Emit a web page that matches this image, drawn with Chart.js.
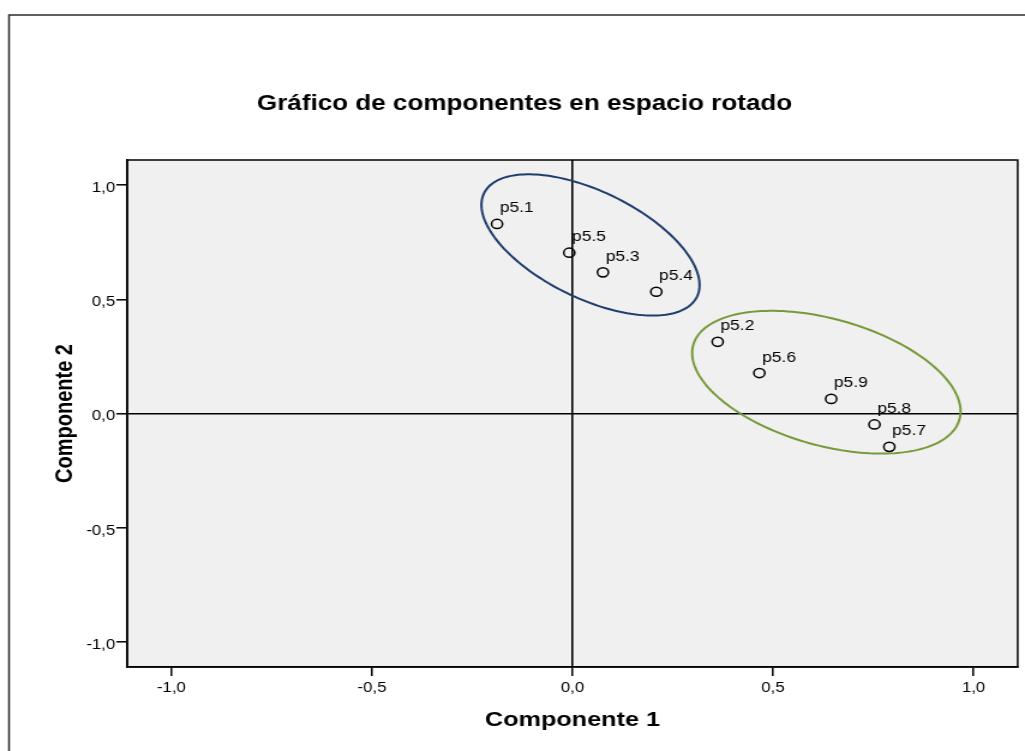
<!DOCTYPE html>
<html lang="es">
<head>
<meta charset="utf-8">
<title>Gráfico de componentes en espacio rotado</title>
<script src="https://cdn.jsdelivr.net/npm/chart.js@4.4.1/dist/chart.umd.min.js"></script>
<style>
  html, body { margin: 0; padding: 0; background: #ffffff; }
</style>
</head>
<body>
<!-- the drawing surface is rendered narrower and widened on screen -->
<canvas id="chart" width="854" height="751" style="display:block;width:1025px;height:751px;"></canvas>
<script>
// Variable loadings on the two rotated components
const pointLabels = ['p5.1', 'p5.5', 'p5.3', 'p5.4', 'p5.2', 'p5.6', 'p5.9', 'p5.8', 'p5.7'];
const componente1 = [-0.188, -0.008, 0.076, 0.209, 0.362, 0.466, 0.645, 0.753, 0.790];
const componente2 = [0.830, 0.704, 0.618, 0.533, 0.314, 0.177, 0.064, -0.048, -0.146];

// Axis ticks
const tickValues = [-1, -0.5, 0, 0.5, 1];
const tickLabels = ['-1,0', '-0,5', '0,0', '0,5', '1,0'];
const axisMin = -1.11;
const axisMax = 1.11;

// Group outlines: centre plus two conjugate radius vectors, in component units
const groupCenters = [[0.045, 0.738], [0.633, 0.137]];
const groupAxisU = [[0.2656, -0.2259], [0.3319, -0.1625]];
const groupAxisV = [[-0.0581, -0.2114], [-0.0422, -0.2671]];
const groupColors = ['#1f3d6b', '#789a3b'];

const titleText = 'Gráfico de componentes en espacio rotado';
const FONT = "'Liberation Sans', Arial, Helvetica, sans-serif";

Chart.defaults.font.family = FONT;
Chart.defaults.color = '#000000';

const points = componente1.map((x, i) => ({ x: x, y: componente2[i] }));

// Page frame, plot background and chart title
const framePlugin = {
  id: 'frame',
  beforeDraw(chart) {
    const { ctx, chartArea: a, width, height } = chart;
    ctx.save();
    ctx.fillStyle = '#ffffff';
    ctx.fillRect(0, 0, width, height);
    ctx.strokeStyle = '#2b2b2b';
    ctx.lineWidth = 1.5;
    ctx.strokeRect(7.5, 15, width + 20, height + 20);
    ctx.fillStyle = '#f0f0f0';
    ctx.fillRect(a.left, a.top, a.right - a.left, a.bottom - a.top);
    ctx.fillStyle = '#000000';
    ctx.font = 'bold 21.7px ' + FONT;
    ctx.textAlign = 'center';
    ctx.textBaseline = 'alphabetic';
    ctx.fillText(titleText, 437, 110);
    ctx.restore();
  },
  afterDraw(chart) {
    const { ctx, chartArea: a } = chart;
    ctx.save();
    ctx.strokeStyle = '#000000';
    ctx.lineWidth = 1.5;
    ctx.strokeRect(a.left, a.top, a.right - a.left, a.bottom - a.top);
    ctx.restore();
  }
};

// Ellipses around the two groups of variables
const groupPlugin = {
  id: 'groups',
  beforeDatasetsDraw(chart) {
    const { ctx, scales: { x, y } } = chart;
    ctx.save();
    ctx.lineWidth = 2;
    groupCenters.forEach((c, g) => {
      const u = groupAxisU[g];
      const v = groupAxisV[g];
      ctx.beginPath();
      for (let k = 0; k <= 180; k++) {
        const t = (k / 180) * Math.PI * 2;
        const vx = c[0] + u[0] * Math.cos(t) + v[0] * Math.sin(t);
        const vy = c[1] + u[1] * Math.cos(t) + v[1] * Math.sin(t);
        const px = x.getPixelForValue(vx);
        const py = y.getPixelForValue(vy);
        if (k === 0) ctx.moveTo(px, py); else ctx.lineTo(px, py);
      }
      ctx.closePath();
      ctx.strokeStyle = groupColors[g];
      ctx.stroke();
    });
    ctx.restore();
  }
};

// Variable names beside each marker
const labelPlugin = {
  id: 'pointNames',
  afterDatasetsDraw(chart) {
    const { ctx } = chart;
    const meta = chart.getDatasetMeta(0);
    ctx.save();
    ctx.fillStyle = '#000000';
    ctx.font = '14.5px ' + FONT;
    ctx.textAlign = 'left';
    ctx.textBaseline = 'alphabetic';
    meta.data.forEach((el, i) => {
      ctx.fillText(pointLabels[i], el.x + 2.3, el.y - 11.5);
    });
    ctx.restore();
  }
};

function zeroLine(ctx) {
  return ctx.tick && ctx.tick.value === 0 ? '#000000' : 'rgba(0,0,0,0)';
}

function fixedTicks(scale) {
  scale.ticks = tickValues.map(v => ({ value: v }));
}

function tickText(value) {
  const i = tickValues.indexOf(value);
  return i >= 0 ? tickLabels[i] : '';
}

new Chart(document.getElementById('chart'), {
  type: 'scatter',
  data: {
    datasets: [{
      label: 'Componentes',
      data: points,
      pointStyle: 'circle',
      pointRadius: 4.6,
      pointHoverRadius: 4.6,
      pointBorderWidth: 1.5,
      pointBorderColor: '#000000',
      pointBackgroundColor: 'rgba(0,0,0,0)'
    }]
  },
  options: {
    responsive: false,
    devicePixelRatio: 1,
    animation: false,
    events: [],
    layout: { padding: { top: 160, left: 8, right: 6, bottom: 0 } },
    plugins: {
      legend: { display: false },
      title: { display: false },
      tooltip: { enabled: false }
    },
    scales: {
      x: {
        type: 'linear',
        position: 'bottom',
        min: axisMin,
        max: axisMax,
        afterBuildTicks: fixedTicks,
        afterFit(scale) { scale.height = 84; },
        ticks: {
          callback: tickText,
          font: { size: 14 },
          color: '#000000',
          padding: 4,
          maxRotation: 0,
          autoSkip: false
        },
        grid: {
          drawOnChartArea: true,
          color: zeroLine,
          lineWidth: 1.6,
          drawTicks: true,
          tickLength: 9,
          tickColor: '#000000',
          tickWidth: 1.5
        },
        border: { display: true, color: '#000000', width: 1.5 },
        title: {
          display: true,
          text: 'Componente 1',
          font: { size: 21, weight: 'bold' },
          color: '#000000',
          padding: { top: 0, bottom: 18 }
        }
      },
      y: {
        type: 'linear',
        position: 'left',
        min: axisMin,
        max: axisMax,
        afterBuildTicks: fixedTicks,
        afterFit(scale) { scale.width = 98; },
        ticks: {
          callback: tickText,
          font: { size: 14 },
          color: '#000000',
          padding: 1,
          labelOffset: 3,
          autoSkip: false
        },
        grid: {
          drawOnChartArea: true,
          color: zeroLine,
          lineWidth: 1.6,
          drawTicks: true,
          tickLength: 9,
          tickColor: '#000000',
          tickWidth: 1.5
        },
        border: { display: true, color: '#000000', width: 1.5 },
        title: {
          display: true,
          text: 'Componente 2',
          font: { size: 20, weight: 'bold' },
          color: '#000000',
          padding: { top: 34, bottom: 0 }
        }
      }
    }
  },
  plugins: [framePlugin, groupPlugin, labelPlugin]
});
</script>
</body>
</html>
